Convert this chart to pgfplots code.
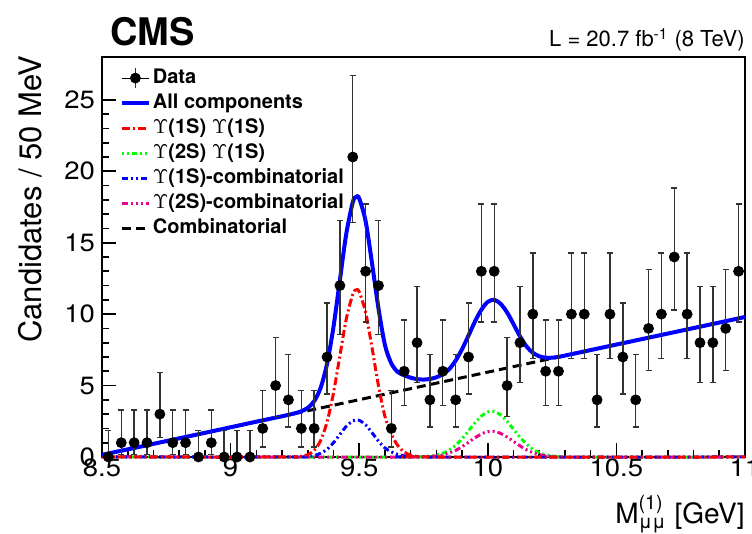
\documentclass[border=0pt]{standalone}
\usepackage{amsmath}
\usepackage{pgfplots}
\pgfplotsset{compat=1.18}
\usepackage{pgfplotstable}
\usepackage{fontspec}
\setmainfont{TeX Gyre Heros}
\newfontfamily\tickfont{TeX Gyre Heros}[FakeStretch=1.1]

\pgfplotstableread{
x y em ep
8.525 0 0 1.84
8.575 1 0.83 2.30
8.625 1 0.83 2.30
8.675 1 0.83 2.30
8.725 3 1.63 2.92
8.775 1 0.83 2.30
8.825 1 0.83 2.30
8.875 0 0 1.84
8.925 1 0.83 2.30
8.975 0 0 1.84
9.025 0 0 1.84
9.075 0 0 1.84
9.125 2 1.29 2.64
9.175 5 2.16 3.38
9.225 4 1.91 3.16
9.275 2 1.29 2.64
9.325 2 1.29 2.64
9.375 7 2.58 3.77
9.425 12 3.41 4.56
9.475 21 4.59 5.72
9.525 13 3.56 4.70
9.575 12 3.41 4.56
9.625 2 1.29 2.64
9.675 6 2.38 3.58
9.725 8 2.77 3.95
9.775 4 1.91 3.16
9.825 6 2.38 3.58
9.875 4 1.91 3.16
9.925 7 2.58 3.77
9.975 13 3.56 4.70
10.025 13 3.56 4.70
10.075 5 2.16 3.38
10.125 8 2.77 3.95
10.175 10 3.11 4.27
10.225 6 2.38 3.58
10.275 6 2.38 3.58
10.325 10 3.11 4.27
10.375 10 3.11 4.27
10.425 4 1.91 3.16
10.475 10 3.11 4.27
10.525 7 2.58 3.77
10.575 4 1.91 3.16
10.625 9 2.94 4.11
10.675 10 3.11 4.27
10.725 14 3.70 4.83
10.775 10 3.11 4.27
10.825 8 2.77 3.95
10.875 8 2.77 3.95
10.925 9 2.94 4.11
10.975 13 3.56 4.70
}\datatable

\pgfplotstableread{
x y
8.5 0.15
8.7 0.92
8.9 1.69
9.1 2.47
9.2 2.85
9.225 2.95
9.25 3.06
9.275 3.20
9.3 3.44
9.325 3.91
9.35 4.84
9.375 6.52
9.4 9.10
9.425 12.40
9.45 15.65
9.475 17.83
9.4875 18.2
9.5 18.1
9.525 16.5
9.55 13.55
9.575 10.4
9.6 7.85
9.625 6.55
9.65 5.95
9.675 5.72
9.7 5.55
9.725 5.45
9.75 5.42
9.775 5.46
9.8 5.58
9.825 5.8
9.85 6.15
9.875 6.75
9.9 7.55
9.925 8.5
9.95 9.48
9.975 10.31
10.0 10.86
10.025 11.0
10.05 10.72
10.075 10.12
10.1 9.3
10.125 8.45
10.15 7.75
10.175 7.3
10.2 7.05
10.225 6.95
10.25 6.95
10.275 7.01
10.3 7.10
10.5 7.87
10.7 8.64
10.9 9.41
11.0 9.80
}\alltable

\pgfplotstableread{
x y
8.5 0
9.2 0
9.25 0.01
9.275 0.05
9.3 0.16
9.325 0.47
9.35 1.15
9.375 2.45
9.4 4.48
9.425 7.10
9.45 9.68
9.475 11.39
9.4875 11.7
9.5 11.56
9.525 10.12
9.55 7.64
9.575 4.98
9.6 2.85
9.625 1.6
9.65 0.8
9.675 0.35
9.7 0.13
9.725 0.04
9.75 0
11 0
}\redtable

\pgfplotstableread{
x y
8.5 0
9.25 0
9.275 0.01
9.3 0.04
9.325 0.10
9.35 0.26
9.375 0.54
9.4 1.00
9.425 1.58
9.45 2.15
9.475 2.53
9.4875 2.6
9.5 2.57
9.525 2.25
9.55 1.70
9.575 1.11
9.6 0.63
9.625 0.36
9.65 0.18
9.675 0.08
9.7 0.03
9.725 0
11 0
}\bluetable

\pgfplotstableread{
x y
8.5 0
9.725 0
9.75 0.025
9.775 0.06
9.8 0.13
9.825 0.26
9.85 0.49
9.875 0.82
9.9 1.28
9.925 1.83
9.95 2.39
9.975 2.86
10.0 3.15
10.025 3.18
10.05 2.94
10.075 2.49
10.1 1.94
10.125 1.39
10.15 0.91
10.175 0.54
10.2 0.30
10.225 0.15
10.25 0.07
10.275 0.03
10.3 0
11 0
}\greentable

\pgfplotstableread{
x y
8.5 0
9.75 0
9.775 0.03
9.8 0.07
9.825 0.15
9.85 0.28
9.875 0.46
9.9 0.72
9.925 1.03
9.95 1.34
9.975 1.61
10.0 1.77
10.025 1.79
10.05 1.65
10.075 1.40
10.1 1.09
10.125 0.78
10.15 0.51
10.175 0.30
10.2 0.17
10.225 0.08
10.25 0.04
10.275 0
11 0
}\magtable

\tikzset{
  combstyle/.style={black, line width=1.5pt, dash pattern=on 4.5pt off 2.5pt},
  redstyle/.style={red, line width=1.5pt, dash pattern=on 4pt off 1.5pt on 1pt off 1.5pt},
  greenstyle/.style={green, line width=1.5pt, dash pattern=on 1pt off 1.5pt on 1pt off 1.5pt on 2.5pt off 1.5pt},
  bluecstyle/.style={blue, line width=1.5pt, dash pattern=on 3pt off 1.5pt on 1pt off 1.5pt on 1pt off 1.5pt},
  magstyle/.style={magenta, line width=1.5pt, dash pattern=on 3pt off 1.5pt on 1pt off 1.5pt on 1pt off 1.5pt on 1pt off 1.5pt},
  allstyle/.style={blue, line width=2pt},
}

\begin{document}
\begin{tikzpicture}
\useasboundingbox (-51pt,-38.5pt) rectangle (325pt,228.5pt);
\begin{axis}[
  at={(0pt,0pt)}, anchor=south west,
  scale only axis, width=321.5pt, height=200pt,
  xmin=8.5, xmax=11, ymin=0, ymax=28,
  xtick={8.5,9,9.5,10,10.5,11},
  xticklabels={8.5,9,9.5,10,10.5,11},
  ytick={0,5,10,15,20,25},
  yticklabels={0,5,10,15,20,25},
  minor x tick num=4, minor y tick num=4,
  xtick pos=left, ytick pos=left,
  tick align=inside,
  axis line style={line width=1pt},
  every tick/.style={black, line width=0.8pt},
  major tick length=7pt, minor tick length=3.5pt,
  tick label style={font=\tickfont\fontsize{12.5}{14}\selectfont},
  xticklabel style={yshift=2.5pt},
  clip=false,
  legend cell align=left,
  legend image code/.code={\draw[#1] (0pt,0pt) -- (13.5pt,0pt);},
  legend style={at={(rel axis cs:0.0179,0.985)}, anchor=north west,
    draw=none, fill=none, font=\fontsize{10}{12}\selectfont\bfseries,
    row sep=2pt, column sep=0.5pt,
    nodes={inner sep=0.5pt, text height=7.5pt, text depth=2pt}},
]
\addlegendimage{legend image code/.code={
  \path (0pt,0pt) -- (13.5pt,0pt);
  \draw[black!80, line width=0.7pt] (6.75pt,-5pt) -- (6.75pt,5pt);
  \fill[black] (6.75pt,0pt) circle (2.5pt);}}
\addlegendentry{Data}
\addlegendimage{allstyle}
\addlegendentry{All components}
\addlegendimage{redstyle}
\addlegendentry{$\Upsilon$(1S) $\Upsilon$(1S)}
\addlegendimage{greenstyle}
\addlegendentry{$\Upsilon$(2S) $\Upsilon$(1S)}
\addlegendimage{bluecstyle}
\addlegendentry{$\Upsilon$(1S)-combinatorial}
\addlegendimage{magstyle}
\addlegendentry{$\Upsilon$(2S)-combinatorial}
\addlegendimage{combstyle}
\addlegendentry{Combinatorial}

\addplot[combstyle, forget plot] coordinates {(8.5,0.15) (11,9.8)};
\addplot[greenstyle, smooth, forget plot] table[x=x,y=y] {\greentable};
\addplot[magstyle, smooth, forget plot] table[x=x,y=y] {\magtable};
\addplot[bluecstyle, smooth, forget plot] table[x=x,y=y] {\bluetable};
\addplot[redstyle, smooth, forget plot] table[x=x,y=y] {\redtable};
\addplot[allstyle, smooth, forget plot] table[x=x,y=y] {\alltable};
\addplot[only marks, mark=*, mark size=2.5pt, black, forget plot,
  error bars/.cd, y dir=both, y explicit,
  error mark=-,
  error bar style={line width=0.7pt, black!80},
  error mark options={rotate=90, line width=0.7pt, black!80, mark size=1.5pt}]
  table[x=x, y=y, y error plus=ep, y error minus=em] {\datatable};
\end{axis}
\node[anchor=base west, font=\fontsize{19}{23}\selectfont\bfseries] at (0.5pt,205.5pt) {CMS};
\node[anchor=base east, font=\fontsize{11}{14}\selectfont, inner sep=0pt] at (321.5pt,205pt) {L = 20.7 fb$^{\text{-1}}$ (8 TeV)};
\node[anchor=base east, rotate=90, font=\fontsize{15.5}{18}\selectfont, inner sep=0pt] at (-30pt,201pt) {Candidates / 50 MeV};
\node[anchor=base east, font=\fontsize{14}{17}\selectfont, inner sep=0pt] at (321.5pt,-33.5pt) {M$^{\text{(1)}}_{\text{μμ}}$ [GeV]};
\end{tikzpicture}
\end{document}
